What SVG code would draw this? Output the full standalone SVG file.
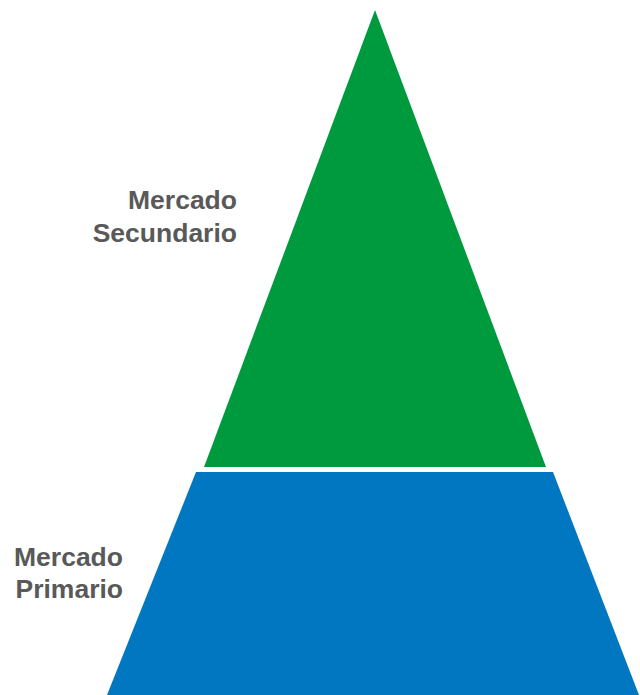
<svg xmlns="http://www.w3.org/2000/svg" width="640" height="695" viewBox="0 0 640 695">
<style>
.lbl{font-family:"Liberation Sans",Arial,sans-serif;font-weight:bold;font-size:26.5px;fill:#595959;text-anchor:end}
</style>
<rect width="640" height="695" fill="#ffffff"/>
<g id="secundario">
<polygon points="375,10 546,467 204,467" fill="#009A3E"/>
<text class="lbl" x="237" y="209">Mercado</text>
<text class="lbl" x="237" y="242">Secundario</text>
</g>
<g id="primario">
<polygon points="196,472 553,472 639,695 107,695" fill="#0077C0"/>
<text class="lbl" x="123" y="566">Mercado</text>
<text class="lbl" x="123" y="598">Primario</text>
</g>
<g id="connectors"></g>
</svg>
